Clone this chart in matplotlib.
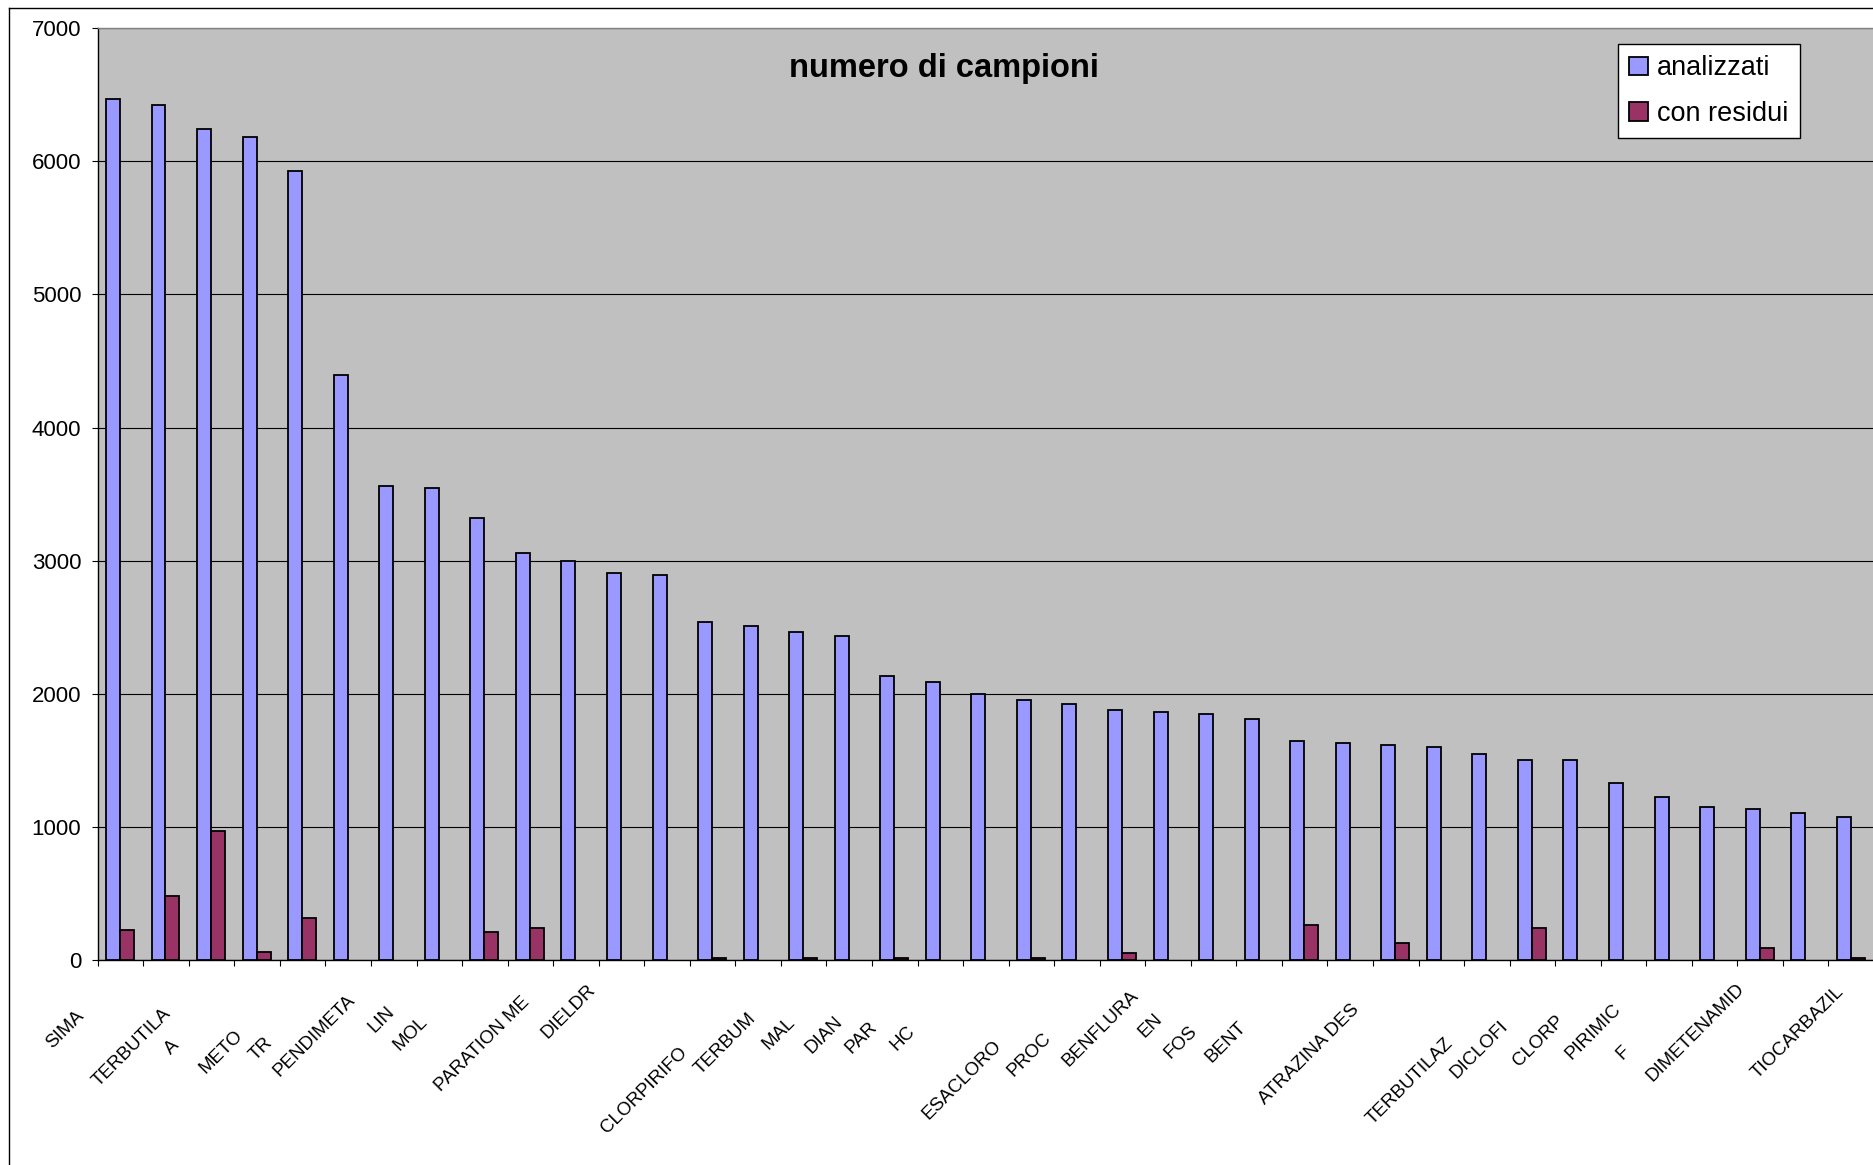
import numpy as np
import matplotlib
matplotlib.use("Agg")
import matplotlib.pyplot as plt
from matplotlib.transforms import ScaledTranslation
from matplotlib.lines import Line2D

plt.rcParams['font.family'] = ['Liberation Sans', 'DejaVu Sans']

# ---- data ----
categories = ["SIMA", "TERBUTILA", "A", "METO", "TR", "PENDIMETA", "LIN", "MOL", "",
              "PARATION ME", "DIELDR", "", "", "CLORPIRIFO", "TERBUM", "MAL", "DIAN",
              "PAR", "HC", "ESACLORO", "PROC", "", "BENFLURA", "EN", "FOS", "BENT", "",
              "ATRAZINA DES", "", "TERBUTILAZ", "", "DICLOFI", "CLORP", "PIRIMIC", "F",
              "", "DIMETENAMID", "", "TIOCARBAZIL"]
analizzati = [6469, 6423, 6243, 6183, 5925, 4395, 3559, 3544, 3319, 3058, 3000, 2908,
              2892, 2540, 2510, 2468, 2438, 2132, 2090, 2000, 1952, 1920, 1877, 1862,
              1845, 1814, 1649, 1632, 1619, 1604, 1544, 1499, 1499, 1331, 1226, 1150,
              1135, 1104, 1074]
con_residui = [225, 483, 969, 60, 318, 0, 0, 0, 213, 243, 0, 0, 0, 17, 0, 17, 0, 17,
               0, 0, 17, 0, 50, 0, 0, 0, 260, 0, 125, 0, 0, 240, 0, 0, 0, 0, 92, 0, 15]
series_names = ["analizzati", "con residui"]
y_ticks = [0, 1000, 2000, 3000, 4000, 5000, 6000, 7000]
title = "numero di campioni"

# label offsets (pixels: right, down) relative to category centre at axis baseline
label_offsets = [(-39.5, 53), (2, 51), (-34.6, 83), (-17, 73), (-32.7, 80), (4.8, 38),
                 (-1.8, 49), (-14.3, 59), (0, 0), (-3.4, 40), (17, 27), (0, 0), (0, 0),
                 (-27.6, 90), (-5.2, 56), (-11.7, 60), (-9.3, 59), (-19.8, 65),
                 (-27.4, 69), (13.1, 83), (17.6, 76), (0, 0), (13.4, 33), (-8.1, 56),
                 (-18.6, 69), (-15.2, 65), (0, 0), (6.7, 47), (0, 0), (8.6, 81), (0, 0),
                 (-26.5, 64), (-17, 58), (-5.6, 47), (-42, 89), (0, 0), (-18.3, 26),
                 (0, 0), (-10.3, 29)]

W, H = 1874, 1165
DPI = 100
fig = plt.figure(figsize=(W / DPI, H / DPI), dpi=DPI)
fig.patch.set_facecolor('white')

# outer chart border (left and top visible)
fig.add_artist(Line2D([9 / W, 9 / W], [0, 1 - 8 / H], transform=fig.transFigure,
                      color='black', lw=1.0))
fig.add_artist(Line2D([9 / W, 1], [1 - 8 / H, 1 - 8 / H], transform=fig.transFigure,
                      color='black', lw=1.0))

left = 97.7 / W
bottom = 1 - 960 / H
top = 1 - 28.3 / H
ax = fig.add_axes([left, bottom, 1 - left, top - bottom])
ax.set_facecolor('#C0C0C0')

x = np.arange(len(analizzati))
w = 0.307
res = np.array(con_residui)
ax.bar(x - 0.165, analizzati, width=w, color='#9999FF', edgecolor='black',
       linewidth=1.3, label=series_names[0], zorder=3)
ax.bar(x + 0.142, res, width=w, color='#993366', edgecolor='black',
       linewidth=np.where(res > 0, 1.3, 0.0), label=series_names[1], zorder=3)

ax.set_xlim(-0.5, len(analizzati) - 0.5)
ax.set_ylim(0, 7000)
ax.set_yticks(y_ticks)
ax.set_yticklabels([str(v) for v in y_ticks], fontsize=16)
ax.yaxis.grid(True, color='black', linewidth=0.8, zorder=0)
ax.set_axisbelow(True)

ax.set_xticks(np.arange(-0.5, len(analizzati), 1))
ax.set_xticklabels([])
ax.tick_params(axis='x', direction='out', length=4.3, width=0.8, color='black')
ax.tick_params(axis='y', direction='out', length=4.3, width=0.8, color='black', pad=7.5)

for s in ['left', 'bottom']:
    ax.spines[s].set_color('black')
    ax.spines[s].set_linewidth(1.0)
ax.spines['top'].set_color('#808080')
ax.spines['top'].set_linewidth(1.0)
ax.spines['right'].set_visible(False)

# category labels
base = ax.get_xaxis_transform()
for i, (lab, (dx, dy)) in enumerate(zip(categories, label_offsets)):
    if not lab:
        continue
    tr = base + ScaledTranslation(dx / DPI, -dy / DPI, fig.dpi_scale_trans)
    ax.text(i, 0, lab, transform=tr, rotation=45, rotation_mode='anchor',
            ha='right', va='center', fontsize=13.5, clip_on=False)

# title
fig.text(944 / W, 1 - 68 / H, title, ha='center', va='center', fontsize=23.5,
         fontweight='bold')

# legend
leg = ax.legend(loc='upper left', bbox_to_anchor=(1618 / W, 1 - 44 / H),
                bbox_transform=fig.transFigure, fontsize=19.5, frameon=True,
                fancybox=False, shadow=False, framealpha=1, edgecolor='black',
                handlelength=0.68, handleheight=0.68, handletextpad=0.35,
                labelspacing=0.72, borderpad=0.42, borderaxespad=0)
leg.get_frame().set_linewidth(1.0)

fig.savefig('out.png', dpi=DPI, facecolor='white')
